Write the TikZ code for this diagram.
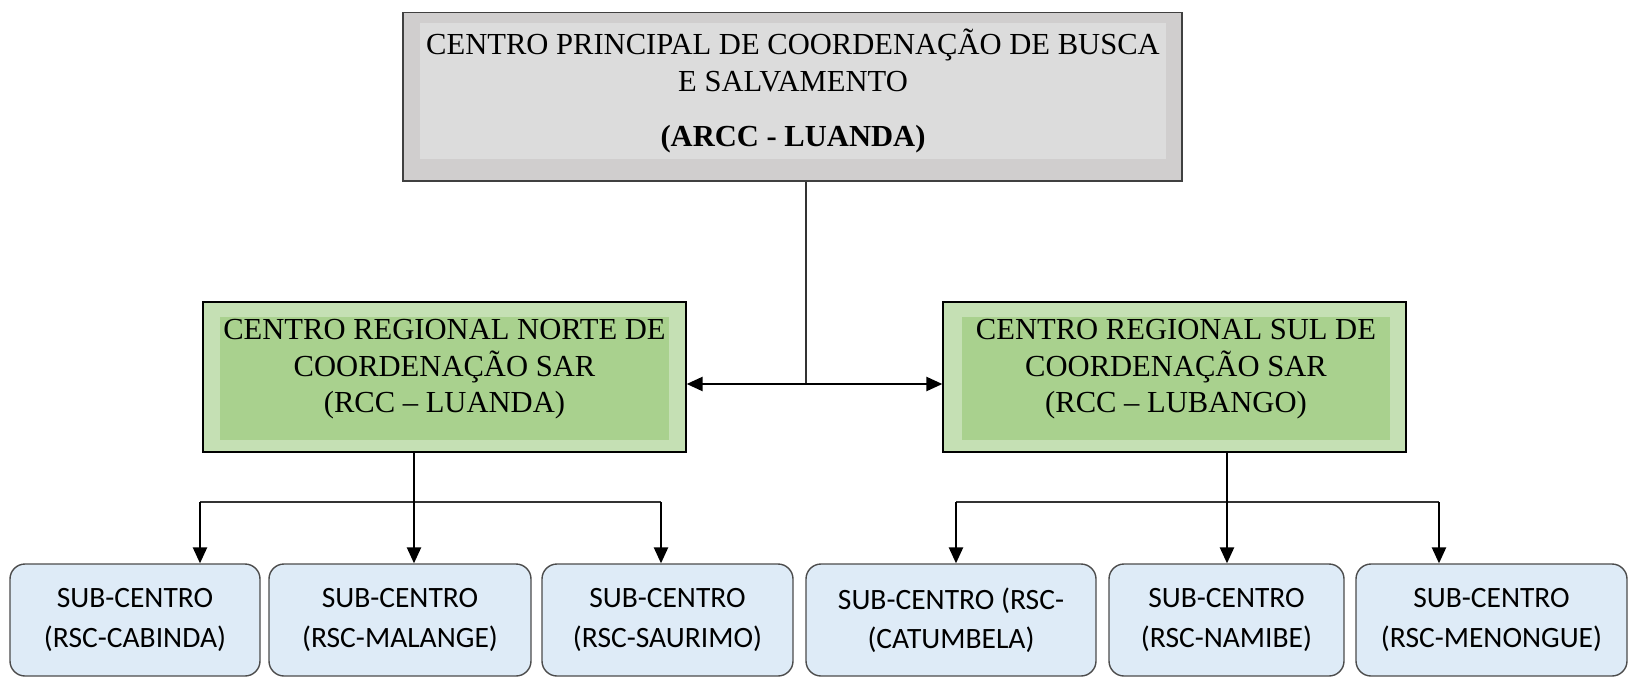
\documentclass[tikz,border=0pt]{standalone}
\usepackage{fontspec}
\setmainfont{Liberation Serif}
\newfontfamily\subfont{Carlito}
\usetikzlibrary{arrows.meta}
\definecolor{arccout}{RGB}{208,206,206}
\definecolor{arccin}{RGB}{220,220,220}
\definecolor{rccout}{RGB}{197,224,180}
\definecolor{rccin}{RGB}{169,209,142}
\definecolor{rscfill}{RGB}{222,235,247}
\begin{document}
\begin{tikzpicture}[>={Triangle[length=9pt,width=8pt]}]
        \tikzstyle{arcc_box}       = [shape = rectangle, draw = black!75, fill = arccout, line width = 0.8pt]
        \tikzstyle{arcc_inner}     = [shape = rectangle, fill = arccin, align = center, font = \fontsize{17.4}{21}\selectfont]
        \tikzstyle{rcc_box}        = [shape = rectangle, draw = black, fill = rccout, line width = 0.8pt, minimum height = 3.0cm]
        \tikzstyle{rcc_inner}      = [shape = rectangle, fill = rccin, minimum height = 2.46cm]
        \tikzstyle{rcc_text}       = [align = center, font = \fontsize{17.4}{20.8}\selectfont]
        \tikzstyle{rsc_box}        = [shape = rectangle, rounded corners = 0.3cm, draw = black!70, fill = rscfill,
                                      line width = 0.8pt, minimum height = 2.24cm, align = center,
                                      font = \subfont\fontsize{16.8}{22.4}\selectfont]

        \useasboundingbox (0, 0) rectangle (32.58, -13.56);

        \node[arcc_box, minimum width = 15.58cm, minimum height = 3.37cm] at (15.85, -1.935) (arcc) {};
        \node[arcc_inner, minimum width = 14.92cm, minimum height = 2.6cm] at (15.86, -1.82) (arcc_in)
          {CENTRO PRINCIPAL DE COORDENAÇÃO DE BUSCA\\E SALVAMENTO\\[10.8pt]\textbf{(ARCC - LUANDA)}};

        \node[rcc_box, minimum width = 9.66cm]  at ( 8.89, -7.54) (rcc_n) {};
        \node[rcc_inner, minimum width = 8.98cm] at ( 8.89, -7.57) (rcc_n_in) {};
        \node[rcc_text]                          at ( 8.89, -7.39) (rcc_n_t) {CENTRO REGIONAL NORTE DE\\COORDENAÇÃO SAR\\(RCC -- LUANDA)};

        \node[rcc_box, minimum width = 9.26cm]  at (23.49, -7.54) (rcc_s) {};
        \node[rcc_inner, minimum width = 8.56cm] at (23.52, -7.57) (rcc_s_in) {};
        \node[rcc_text]                          at (23.52, -7.39) (rcc_s_t) {CENTRO REGIONAL SUL DE\\COORDENAÇÃO SAR\\(RCC -- LUBANGO)};

        \node[rsc_box, minimum width = 5.0cm]  at ( 2.70, -12.4) (rsc_cab) {SUB-CENTRO\\(RSC-CABINDA)};
        \node[rsc_box, minimum width = 5.24cm] at ( 8.00, -12.4) (rsc_mal) {SUB-CENTRO\\(RSC-MALANGE)};
        \node[rsc_box, minimum width = 5.02cm] at (13.35, -12.4) (rsc_sau) {SUB-CENTRO\\(RSC-SAURIMO)};
        \node[rsc_box, minimum width = 5.8cm]  at (19.02, -12.4) (rsc_cat) {SUB-CENTRO (RSC-\\(CATUMBELA)};
        \node[rsc_box, minimum width = 4.7cm]  at (24.53, -12.4) (rsc_nam) {SUB-CENTRO\\(RSC-NAMIBE)};
        \node[rsc_box, minimum width = 5.42cm] at (29.83, -12.4) (rsc_men) {SUB-CENTRO\\(RSC-MENONGUE)};

        \coordinate (hub)   at (16.12, -7.68);
        \coordinate (n_l)   at ( 4.00, -10.04);
        \coordinate (n_m)   at ( 8.28, -10.04);
        \coordinate (n_r)   at (13.22, -10.04);
        \coordinate (s_l)   at (19.12, -10.04);
        \coordinate (s_m)   at (24.54, -10.04);
        \coordinate (s_r)   at (28.78, -10.04);

        \draw[line width = 1pt, black!80]
          (arcc.south -| hub) -- (hub)
          (n_l) -- (n_r)
          (s_l) -- (s_r)
        ;

        \draw[line width = 1pt]
          (hub) edge[->] (hub -| rcc_n.east)
          (hub) edge[->] (hub -| rcc_s.west)
          (rcc_n.south -| n_m) edge[->] (n_m |- rsc_mal.north)
          (n_l) edge[->] (n_l |- rsc_cab.north)
          (n_r) edge[->] (n_r |- rsc_sau.north)
          (rcc_s.south -| s_m) edge[->] (s_m |- rsc_nam.north)
          (s_l) edge[->] (s_l |- rsc_cat.north)
          (s_r) edge[->] (s_r |- rsc_men.north)
        ;
      \end{tikzpicture}
\end{document}
